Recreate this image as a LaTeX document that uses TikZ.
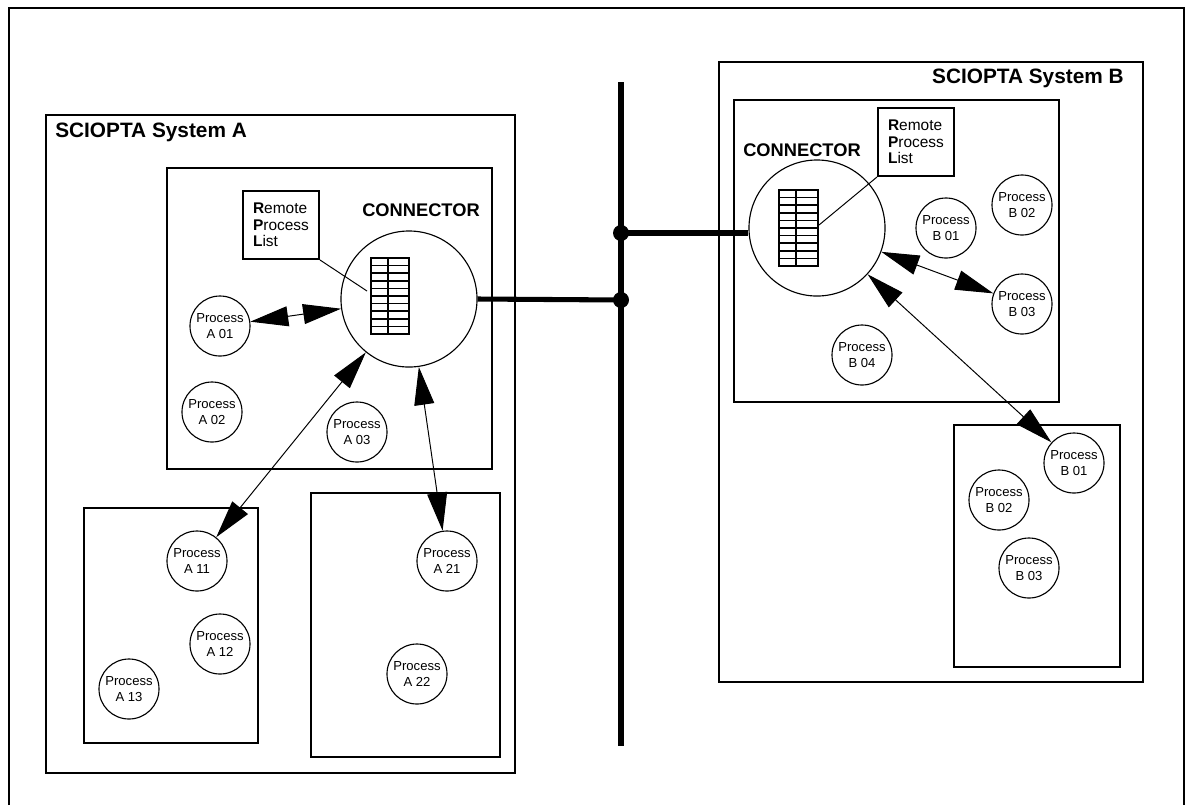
\documentclass[tikz,border=0pt]{standalone}
\usepackage{fontspec}
\setmainfont{Liberation Sans}
\usepackage{tikz}
\usetikzlibrary{arrows.meta, positioning}
\tikzset{
    frame/.style={draw, line width=1.4pt},
    proc/.style={circle, draw, line width=0.8pt, minimum size=1.5cm, inner sep=0pt, text centered, align=center, font=\fontsize{9.3}{11.3}\selectfont},
    connector/.style={circle, draw, line width=0.8pt, minimum size=3.4cm},
    rpl/.style={rectangle, draw, line width=1.4pt, minimum width=1.9cm, minimum height=1.7cm, align=left, font=\fontsize{11}{11.6}\selectfont},
    title/.style={inner sep=0pt, font=\fontsize{14.8}{17}\selectfont\bfseries},
    conlabel/.style={inner sep=0pt, font=\fontsize{13}{15}\selectfont\bfseries},
    flow/.style={<->, line width=0.7pt, >={Triangle[length=0.95cm, width=0.5cm]}},
    bus/.style={line width=3.6pt},
    junction/.style={circle, fill, inner sep=0pt, minimum size=0.4cm},
    leader/.style={line width=0.7pt},
    rows/.style={line width=1.2pt}
}

\begin{document}
\begin{tikzpicture}[x=0.025cm, y=-0.025cm]
    \useasboundingbox (0,0) rectangle (1191,805);
    % Outer frame
    \draw[frame] (9,805) -- (9,8) -- (1184,8) -- (1184,805);

    % SCIOPTA System A
    \draw[frame] (46,115) rectangle (515,773);
    \node[title, anchor=west] (titleA) at (55,132) {SCIOPTA System A};
    \draw[frame] (167,168) rectangle (492,469);
    \draw[frame] (84,508) rectangle (258,743);
    \draw[frame] (311,493) rectangle (500,757);

    \node[conlabel] (labA) at (421,210) {CONNECTOR};
    \node[connector] (connA) at (409,299) {};
    \node[rpl] (rplA) at (281,225) {\textbf{R}emote\\\textbf{P}rocess\\\textbf{L}ist};
    \draw[rows] (371,258) rectangle (409,334);
    \draw[rows] (388,258) -- (388,334);
    \foreach \r in {1,...,9}
        \draw[rows] (371,{258+7.6*\r}) -- (409,{258+7.6*\r});
    \coordinate (tabA) at (367,291);
    \draw[leader] (rplA.south east) -- (tabA);

    \node[proc] (pA01) at (220,326) {Process\\A 01};
    \node[proc] (pA02) at (212,412) {Process\\A 02};
    \node[proc] (pA03) at (357,432) {Process\\A 03};
    \node[proc] (pA11) at (197,561) {Process\\A 11};
    \node[proc] (pA12) at (220,644) {Process\\A 12};
    \node[proc] (pA13) at (129,689) {Process\\A 13};
    \node[proc] (pA21) at (447,561) {Process\\A 21};
    \node[proc] (pA22) at (417,674) {Process\\A 22};

    % SCIOPTA System B
    \draw[frame] (719,62) rectangle (1143,682);
    \node[title, anchor=east] (titleB) at (1124,78) {SCIOPTA System B};
    \draw[frame] (734,100) rectangle (1059,402);
    \draw[frame] (954,425) rectangle (1120,667);

    \node[conlabel] (labB) at (802,150) {CONNECTOR};
    \node[connector] (connB) at (817,228) {};
    \node[rpl] (rplB) at (916,142) {\textbf{R}emote\\\textbf{P}rocess\\\textbf{L}ist};
    \draw[rows] (779,190) rectangle (818,266);
    \draw[rows] (796,190) -- (796,266);
    \foreach \r in {1,...,9}
        \draw[rows] (779,{190+7.6*\r}) -- (818,{190+7.6*\r});
    \coordinate (tabB) at (819,225);
    \draw[leader] (rplB.south west) -- (tabB);

    \node[proc] (pB01) at (946,228) {Process\\B 01};
    \node[proc] (pB02) at (1022,205) {Process\\B 02};
    \node[proc] (pB03) at (1022,304) {Process\\B 03};
    \node[proc] (pB04) at (862,355) {Process\\B 04};
    \node[proc] (subB01) at (1074,463) {Process\\B 01};
    \node[proc] (subB02) at (999,500) {Process\\B 02};
    \node[proc] (subB03) at (1029,568) {Process\\B 03};

    % Bus
    \coordinate (bustop) at (621,82);
    \coordinate (busbot) at (621,746);
    \draw[bus] (bustop) -- (busbot);
    \node[junction] (jA) at (621,300) {};
    \node[junction] (jB) at (621,233) {};
    \draw[bus] (connA.east) -- (jA.center);
    \draw[bus] (jB.center) -- (jB -| connB.west);

    % Messages
    \draw[flow] (pA01) -- (connA);
    \draw[flow] (connA) -- (pA11);
    \draw[flow] (connA) -- (pA21);
    \draw[flow] (connB) -- (pB03);
    \draw[flow] (connB) -- (subB01);
\end{tikzpicture}
\end{document}
